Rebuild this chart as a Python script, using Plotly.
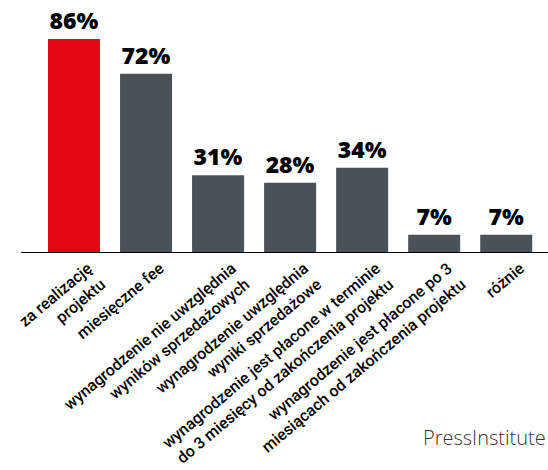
import plotly.graph_objects as go

categories = [
    "za realizację<br>projektu",
    "miesięczne fee",
    "wynagrodzenie nie uwzględnia<br>wyników sprzedażowych",
    "wynagrodzenie uwzględnia<br>wyniki sprzedażowe",
    "wynagrodzenie jest płacone w terminie<br>do 3 miesięcy od zakończenia projektu",
    "wynagrodzenie jest płacone po 3<br>miesiącach od zakończenia projektu",
    "różnie",
]
values = [86, 72, 31, 28, 34, 7, 7]
value_labels = [f"{v}%" for v in values]
colors = ["#e30613"] + ["#4a5157"] * 6

fig = go.Figure(go.Bar(
    x=list(range(len(categories))),
    y=values,
    text=value_labels,
    textposition="outside",
    textfont=dict(family="Open Sans", size=23, color="#000000", weight=800),
    marker=dict(color=colors, line=dict(width=0)),
    width=0.722,
    cliponaxis=False,
))

fig.update_layout(
    width=548, height=470,
    margin=dict(l=21, r=0, t=10, b=218),
    paper_bgcolor="white", plot_bgcolor="white",
    showlegend=False,
    uniformtext=dict(mode=False),
    xaxis=dict(
        range=[-0.736, 6.58],
        tickmode="array",
        tickvals=list(range(len(categories))),
        ticktext=categories,
        tickangle=-40,
        tickfont=dict(family="Roboto", size=16, color="#000000", weight=500),
        ticklabelshift=14,
        showline=True, linecolor="#000000", linewidth=1,
        showgrid=False, zeroline=False, ticks="",
        automargin=False,
    ),
    yaxis=dict(range=[0, 97.7], visible=False, showgrid=False, zeroline=False),
    annotations=[dict(
        text="PressInstitute", x=1, y=0, xref="paper", yref="paper",
        xanchor="right", yanchor="bottom", yshift=-201, xshift=0,
        showarrow=False,
        font=dict(family="Open Sans", size=20, color="#333333", weight=300),
    )],
)

fig.write_html("out.html")
